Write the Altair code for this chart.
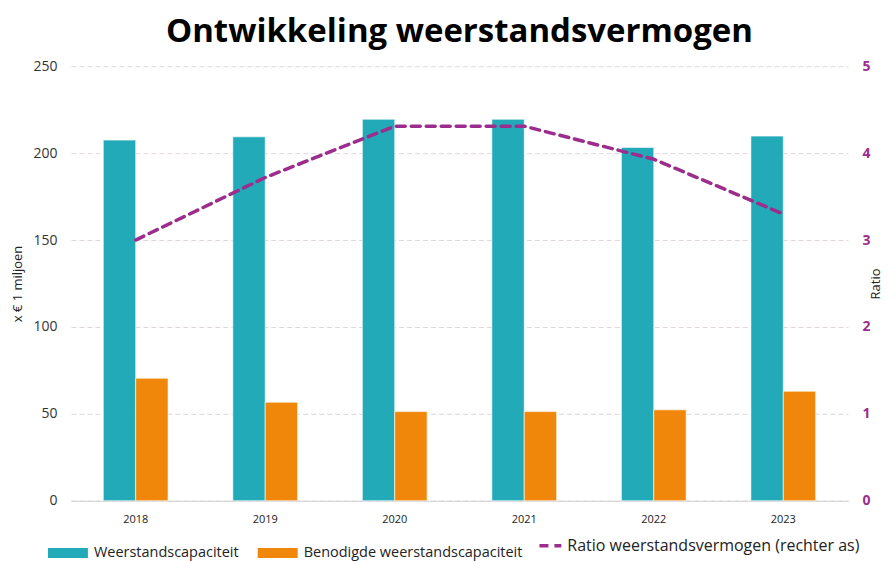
import altair as alt
import pandas as pd

years = ["2018", "2019", "2020", "2021", "2022", "2023"]
capaciteit = [207.5, 209.4, 219.5, 219.5, 203.3, 209.8]
benodigd = [70.5, 56.7, 51.3, 51.3, 52.3, 63.0]
ratio = [3.0, 3.72, 4.31, 4.31, 3.93, 3.30]
series = ["Weerstandscapaciteit", "Benodigde weerstandscapaciteit"]
line_name = "Ratio weerstandsvermogen (rechter as)"

TEAL = "#22AAB8"
ORANGE = "#F0870A"
PURPLE = "#9C2D8C"
FONT = "Open Sans"

bars_df = pd.DataFrame({
    "jaar": years * 2,
    "serie": [series[0]] * len(years) + [series[1]] * len(years),
    "waarde": capaciteit + benodigd,
})
line_df = pd.DataFrame({"jaar": years, "ratio": ratio, "serie": [line_name] * len(years)})

x_enc = alt.X(
    "jaar:N",
    title=None,
    sort=years,
    scale=alt.Scale(paddingInner=0.5, paddingOuter=0.25),
    axis=alt.Axis(labelAngle=0, labelFontSize=11, labelColor="#222222", labelFont=FONT,
                  domain=True, domainColor="#d0d0d0", ticks=False, labelPadding=13, grid=False),
)

bars = alt.Chart(bars_df).mark_bar(stroke="white", strokeWidth=0.6).encode(
    x=x_enc,
    xOffset=alt.XOffset("serie:N", sort=series, scale=alt.Scale(domain=series, paddingInner=0, paddingOuter=0)),
    y=alt.Y(
        "waarde:Q",
        scale=alt.Scale(domain=[0, 250]),
        axis=alt.Axis(values=[0, 50, 100, 150, 200, 250], title="x € 1 miljoen", titleFont=FONT,
                      titleFontSize=13, titleFontWeight="normal", titleColor="#222222", titlePadding=8,
                      labelFont=FONT, labelFontSize=14, labelColor="#333333", labelPadding=14,
                      ticks=False, domain=False, grid=True, gridColor="#e0d6dc", gridDash=[5, 3],
                      gridWidth=1),
    ),
    color=alt.Color(
        "serie:N",
        sort=series,
        scale=alt.Scale(domain=series, range=[TEAL, ORANGE]),
        legend=alt.Legend(title=None, orient="none", legendX=-23, legendY=467, direction="horizontal",
                          symbolType="M-1,-0.25H1V0.25H-1Z", symbolSize=1600, symbolStrokeWidth=0,
                          labelFont=FONT, labelFontSize=14.5, labelColor="#222222", labelOffset=6,
                          labelLimit=0, columnPadding=18),
    ),
)

line = alt.Chart(line_df).mark_line(color=PURPLE, strokeWidth=3.5, strokeCap="round").encode(
    x=x_enc,
    y=alt.Y(
        "ratio:Q",
        scale=alt.Scale(domain=[0, 5]),
        axis=alt.Axis(orient="right", values=[0, 1, 2, 3, 4, 5], title="Ratio", titleFont=FONT,
                      titleFontSize=13, titleFontWeight="normal", titleColor="#222222", titleAngle=270,
                      titlePadding=12, labelFont=FONT, labelFontSize=14, labelFontWeight="bold",
                      labelColor=PURPLE, labelPadding=14, ticks=False, domain=False, grid=False),
    ),
    strokeDash=alt.StrokeDash(
        "serie:N",
        scale=alt.Scale(domain=[line_name], range=[[9, 6]]),
        legend=alt.Legend(title=None, orient="none", legendX=467, legendY=467, symbolType="stroke",
                          symbolStrokeColor=PURPLE, symbolStrokeWidth=3.5, symbolSize=480,
                          labelFont=FONT, labelFontSize=16, labelColor="#222222", labelOffset=4,
                          labelLimit=0),
    ),
)

chart = alt.layer(bars, line).resolve_scale(y="independent", strokeDash="independent").properties(
    width=778,
    height=435,
    padding={"left": 3, "top": 8, "right": 5, "bottom": 5},
    title=alt.Title("Ontwikkeling weerstandsvermogen", font=FONT, fontSize=33, fontWeight="bold",
                    color="#000000", anchor="middle", offset=10),
).configure_view(stroke=None)

chart.save("out.html", embed_options={"renderer": "svg", "actions": False})
